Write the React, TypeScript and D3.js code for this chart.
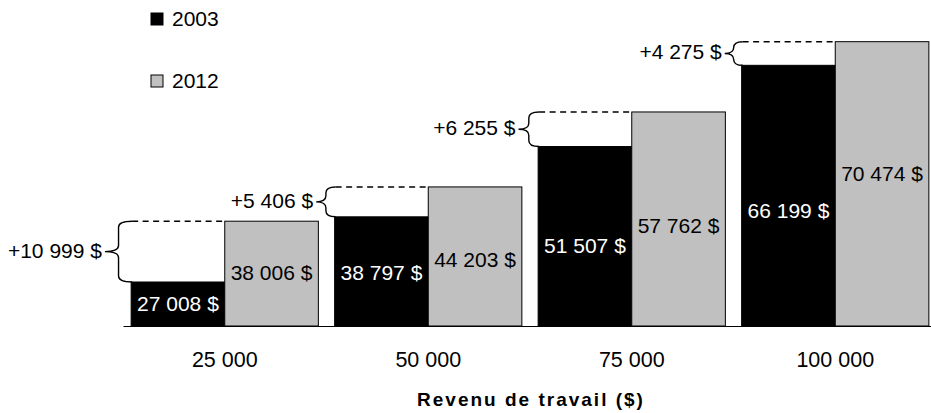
import React, { useEffect, useMemo, useRef } from "react";
import * as d3 from "d3";

// Revenu de travail, salaire de 2003 vs 2012
const CATEGORIES = ["25 000", "50 000", "75 000", "100 000"];
const SERIES = ["2003", "2012"];
const VALUES_2003 = [27008, 38797, 51507, 66199];
const VALUES_2012 = [38006, 44203, 57762, 70474];
// gaps as printed on the chart (the first one is rounded in the source)
const GAP_LABELS = [10999, 5406, 6255, 4275];

const WIDTH = 931;
const HEIGHT = 413;
const BASE_Y = 326;
const FONT = "'Liberation Sans', Arial, sans-serif";
const COLORS = ["#000000", "#c0c0c0"];
const TEXT_COLORS = ["#ffffff", "#000000"];

// hand-placed label nudges (px from bar middle), as in the original
const LABEL_NUDGE = [
  [-0.5, 0.6, 9.7, 14.9],
  [-1.1, 3, 6.5, -10],
];

const locale = d3.formatLocale({
  decimal: ",",
  thousands: " ",
  grouping: [3],
  currency: ["", " $"],
});
const fmt = locale.format(",");
const money = (v: number) => `${fmt(v)} $`;

const bracePath = (xe: number, yT: number, yB: number) => {
  const h = yB - yT;
  const w = 12 + 0.25 * h;
  const xp = xe - w;
  const xv = xe - w * 0.5;
  const ym = (yT + yB) / 2;
  const r = Math.min(6, h / 4);
  return {
    d: `M${xe},${yT} Q${xv},${yT} ${xv},${yT + r} L${xv},${ym - r} Q${xv},${ym} ${xp},${ym} Q${xv},${ym} ${xv},${ym + r} L${xv},${yB - r} Q${xv},${yB} ${xe},${yB}`,
    xp,
    ym,
  };
};

const App: React.FC = () => {
  const axisRef = useRef<SVGGElement>(null);

  const x = useMemo(
    () =>
      d3
        .scaleBand<string>()
        .domain(CATEGORIES)
        .range([123, 937])
        .paddingInner(0.08)
        .paddingOuter(0.04),
    []
  );
  const xs = useMemo(
    () => d3.scaleBand<string>().domain(SERIES).range([0, x.bandwidth()]),
    [x]
  );
  const y = useMemo(
    () => d3.scaleLinear().domain([19050, 78012]).range([BASE_Y, 0]),
    []
  );

  useEffect(() => {
    if (!axisRef.current) return;
    const g = d3.select(axisRef.current);
    g.call(d3.axisBottom(x).tickSize(0).tickPadding(26));
    g.select(".domain").attr("stroke", "#000").attr("stroke-width", 1);
    g.selectAll("text")
      .attr("font-family", FONT)
      .attr("font-size", 21.5)
      .attr("fill", "#000");
  }, [x]);

  const seriesValues = [VALUES_2003, VALUES_2012];

  return (
    <svg
      width={WIDTH}
      height={HEIGHT}
      style={{ position: "absolute", left: 0, top: 0, background: "#fff" }}
      fontFamily={FONT}
    >
      {/* Legend */}
      {SERIES.map((s, i) => (
        <g key={s} transform={`translate(151, ${13 + i * 62})`}>
          <rect
            width={12}
            height={12}
            fill={COLORS[i]}
            stroke="#000"
            strokeWidth={1}
          />
          <text x={21} y={13} fontSize={21}>
            {s}
          </text>
        </g>
      ))}

      {/* Bars */}
      {CATEGORIES.map((c, ci) => (
        <g key={c} transform={`translate(${x(c)}, 0)`}>
          {SERIES.map((s, si) => {
            const v = seriesValues[si][ci];
            const top = y(v);
            const bx = xs(s) ?? 0;
            return (
              <g key={s}>
                <rect
                  x={bx}
                  y={top}
                  width={xs.bandwidth()}
                  height={BASE_Y - top}
                  fill={COLORS[si]}
                  stroke="#000"
                  strokeWidth={1}
                />
                <text
                  x={bx + xs.bandwidth() / 2}
                  y={(top + BASE_Y) / 2 + LABEL_NUDGE[si][ci] + 7.5}
                  textAnchor="middle"
                  fontSize={21}
                  fill={TEXT_COLORS[si]}
                >
                  {money(v)}
                </text>
              </g>
            );
          })}
        </g>
      ))}

      {/* Gap braces */}
      {CATEGORIES.map((c, ci) => {
        const xe = (x(c) ?? 0) + 1;
        const yT = y(VALUES_2012[ci]);
        const yB = y(VALUES_2003[ci]);
        const b = bracePath(xe, yT, yB);
        const grayX = (x(c) ?? 0) + (xs("2012") ?? 0);
        return (
          <g key={`gap-${c}`}>
            <line
              x1={xe}
              x2={grayX}
              y1={yT}
              y2={yT}
              stroke="#000"
              strokeWidth={1.5}
              strokeDasharray="6,4.5"
            />
            <path d={b.d} fill="none" stroke="#000" strokeWidth={1.4} />
            <text
              x={b.xp - 3}
              y={b.ym + 6}
              textAnchor="end"
              fontSize={21}
            >
              +{money(GAP_LABELS[ci])}
            </text>
          </g>
        );
      })}

      {/* X axis */}
      <g ref={axisRef} transform={`translate(0, ${BASE_Y})`} />

      <text
        x={531}
        y={406}
        textAnchor="middle"
        fontSize={19}
        fontWeight="bold"
        letterSpacing={2}
      >
        Revenu de travail ($)
      </text>
    </svg>
  );
};

export default App;
